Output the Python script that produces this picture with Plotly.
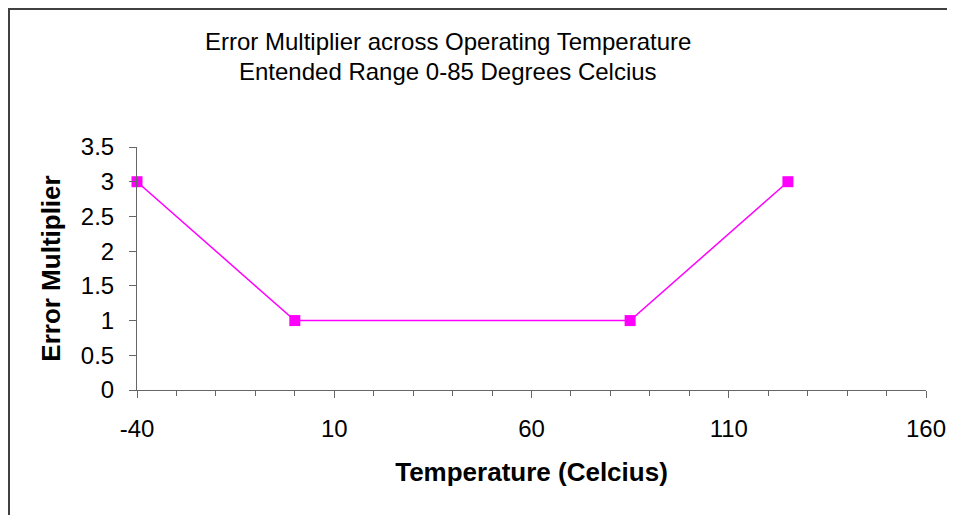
import plotly.graph_objects as go

temperature = [-40, 0, 85, 125]
error_multiplier = [3, 1, 1, 3]

x_tick_values = [-40, 10, 60, 110, 160]
x_tick_labels = ["-40", "10", "60", "110", "160"]

title_line1 = "Error Multiplier across Operating Temperature"
title_line2 = "Entended Range 0-85 Degrees Celcius"
x_title = "Temperature (Celcius)"
y_title = "Error Multiplier"

FONT = "Liberation Sans, Arial, sans-serif"
AXIS_COLOR = "#666666"

fig = go.Figure()
fig.add_trace(go.Scatter(
    x=temperature, y=error_multiplier, mode="lines+markers",
    line=dict(color="#FF00FF", width=1.5),
    marker=dict(symbol="square", size=11, color="#FF00FF"),
    showlegend=False, cliponaxis=False,
))

OFF = 8  # page body margin offset
W, H = 955, 515
L, T = 137 - OFF, 147 - OFF
R = W - (926 - OFF)
B = H - (390 - OFF)
pw, ph = W - L - R, H - T - B


def px_x(sx):
    return (sx - OFF - L) / pw


def px_y(sy):
    return (H - B - (sy - OFF)) / ph


fig.update_layout(
    width=W, height=H,
    margin=dict(l=L, r=R, t=T, b=B),
    paper_bgcolor="white", plot_bgcolor="white",
    font=dict(family=FONT, size=24, color="black"),
    xaxis=dict(
        range=[-40, 160], tickmode="array", tickvals=x_tick_values, ticktext=x_tick_labels,
        showgrid=False, zeroline=False,
        showline=True, linecolor=AXIS_COLOR, linewidth=1,
        ticks="outside", ticklen=7, tickcolor=AXIS_COLOR, tickwidth=1,
        ticklabelstandoff=10,
        minor=dict(dtick=10, tick0=-40, ticks="outside", ticklen=5, tickcolor=AXIS_COLOR, showgrid=False),
        title=dict(text="<b>" + x_title + "</b>", font=dict(size=26), standoff=22),
        tickfont=dict(size=24),
    ),
    yaxis=dict(
        range=[0, 3.5], dtick=0.5, showgrid=False, zeroline=False,
        showline=True, linecolor=AXIS_COLOR, linewidth=1,
        ticks="outside", ticklen=7, tickcolor=AXIS_COLOR, tickwidth=1,
        ticklabelstandoff=10,
        title=dict(text="<b>" + y_title + "</b>", font=dict(size=26), standoff=12),
        tickfont=dict(size=24),
    ),
    shapes=[dict(
        type="rect", xref="paper", yref="paper",
        x0=px_x(9), x1=px_x(990), y0=px_y(560), y1=px_y(9),
        line=dict(color="#404040", width=2), fillcolor="rgba(0,0,0,0)", layer="below",
    )],
    annotations=[
        dict(text=title_line1, xref="paper", yref="paper", x=px_x(447.5), y=px_y(41),
             showarrow=False, font=dict(size=24), xanchor="center", yanchor="middle"),
        dict(text=title_line2, xref="paper", yref="paper", x=px_x(447.5), y=px_y(72),
             showarrow=False, font=dict(size=24), xanchor="center", yanchor="middle"),
    ],
)

fig.write_html("out.html")
